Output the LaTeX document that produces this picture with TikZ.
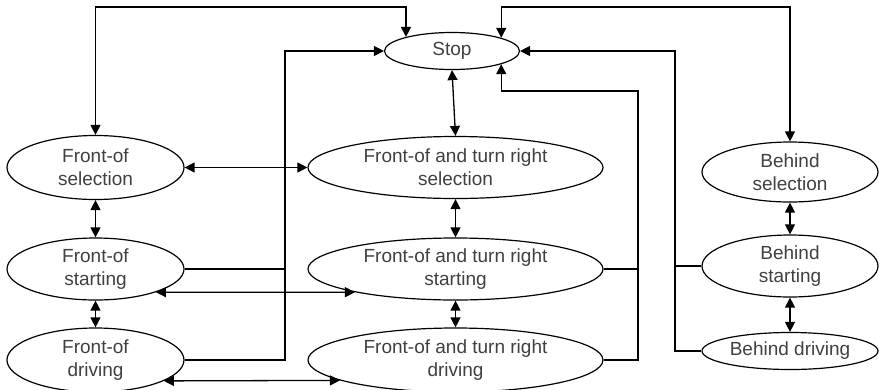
\documentclass[tikz,border=0pt]{standalone}
\usepackage{fontspec}
\setmainfont{Liberation Sans}
\usetikzlibrary{shapes.geometric,arrows.meta}
\begin{document}
\begin{tikzpicture}[x=1pt,y=-1pt,
  ell/.style={ellipse, draw, line width=1.2pt, inner sep=0pt, align=center,
    text=black!75, font=\fontsize{19}{23}\selectfont},
  conn/.style={line width=1.3pt},
  tip/.style={conn,-{Triangle[length=10pt,width=10pt]}},
  bitip/.style={conn,{Triangle[length=10pt,width=10pt]}-{Triangle[length=10pt,width=10pt]}}]
\useasboundingbox (0,0) rectangle (879,389);
% nodes
\node[ell, minimum width=135pt, minimum height=37pt] (stop) at (452,51) {Stop};
\node[ell, minimum width=177pt, minimum height=64pt] (fs) at (95.5,167.5) {Front-of\\selection};
\node[ell, minimum width=295pt, minimum height=62pt] (ftrs) at (455.5,167.5) {Front-of and turn right\\selection};
\node[ell, minimum width=177pt, minimum height=62pt] (fst) at (95.5,269) {Front-of\\starting};
\node[ell, minimum width=295pt, minimum height=62pt] (ftrst) at (455.5,269) {Front-of and turn right\\starting};
\node[ell, minimum width=177pt, minimum height=64pt] (fd) at (95.5,360) {Front-of\\driving};
\node[ell, minimum width=295pt, minimum height=64pt] (ftrd) at (455.5,360) {Front-of and turn right\\driving};
\node[ell, minimum width=176pt, minimum height=60pt] (bs) at (790,172) {Behind\\selection};
\node[ell, minimum width=176pt, minimum height=62pt] (bst) at (790,266) {Behind\\starting};
\node[ell, minimum width=176pt, minimum height=37pt] (bd) at (790,351) {Behind driving};
% helper coordinates
\coordinate (topy) at (0,7);
\coordinate (jl) at (285,0);
\coordinate (jr) at (638,0);
\coordinate (ry) at (0,91);
\coordinate (jt) at (675,0);
% top loops
\draw[bitip] (fs.north) -- (fs.north |- topy) -| (stop.163.6);
\draw[bitip] (bs.north) -- (bs.north |- topy) -| (stop.15.2);
% vertical links
\draw[bitip] (stop.south) -- (ftrs.north);
\draw[bitip] (fs.south) -- (fst.north);
\draw[bitip] (fst.south) -- (fd.north);
\draw[bitip] (ftrs.south) -- (ftrst.north);
\draw[bitip] (ftrst.south) -- (ftrd.north);
\draw[bitip] (bs.south) -- (bst.north);
\draw[bitip] (bst.south) -- (bd.north);
% horizontal links
\draw[bitip] (fs.east) -- (ftrs.west);
\draw[bitip] (fst.-21.2) -- (ftrst.193.1);
\draw[bitip] (fd.-17.45) -- (ftrd.190.68);
% left trunk
\draw[conn] (fst.east) -- (fst.east -| jl);
\draw[tip] (fd.east) -| (jl |- stop.west) -- (stop.west);
% middle-right trunk
\draw[conn] (ftrst.east) -- (ftrst.east -| jr);
\draw[tip] (ftrd.east) -| (jr |- ry) -| (stop.-15.2);
% right trunk
\draw[conn] (bst.west) -- (bst.west -| jt);
\draw[tip] (bd.west) -| (jt |- stop.east) -- (stop.east);
\end{tikzpicture}
\end{document}
